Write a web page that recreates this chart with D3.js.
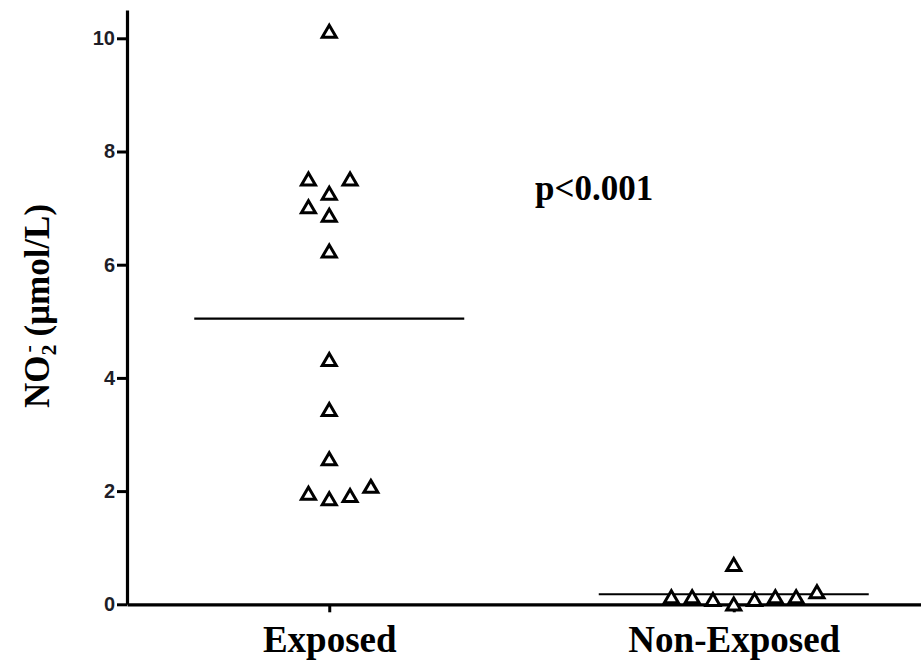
<!DOCTYPE html>
<html>
<head>
<meta charset="utf-8">
<script src="https://cdn.jsdelivr.net/npm/d3@7"></script>
<style>
  html, body { margin: 0; padding: 0; background: #fff; }
  svg { display: block; }
</style>
</head>
<body>
<svg id="chart" width="921" height="663"></svg>
<script>
// ---- data ----
const groups = ["Exposed", "Non-Exposed"];
const exposedValues = [10.12, 7.51, 7.51, 7.26, 7.02, 6.87, 6.24, 4.32, 3.44, 2.57, 1.96, 1.86, 1.92, 2.08];
const exposedSlots  = [0, -1, 1, 0, -1, 0, 0, 0, 0, 0, -1, 0, 1, 2];
const nonExposedValues = [0.70, 0.13, 0.13, 0.08, 0.00, 0.08, 0.13, 0.13, 0.22];
const nonExposedSlots  = [0, -3, -2, -1, 0, 1, 2, 3, 4];
const yTicks = [0, 2, 4, 6, 8, 10];
const yMax = 10.5;
const pText = "p<0.001";

// ---- layout ----
const svg = d3.select("#chart");
const x = d3.scalePoint().domain(groups).range([127, 936]).padding(0.5);
const y = d3.scaleLinear().domain([0, yMax]).range([604.3, 10]);
const slotW = 20.8;

const points = [];
exposedValues.forEach((v, i) => points.push({g: groups[0], v, s: exposedSlots[i]}));
nonExposedValues.forEach((v, i) => points.push({g: groups[1], v, s: nonExposedSlots[i]}));

// y axis
const yAxis = svg.append("g")
  .attr("transform", "translate(127,0)")
  .call(d3.axisLeft(y).tickValues(yTicks).tickSize(10).tickSizeOuter(0).tickPadding(2).tickFormat(d3.format("d")));
yAxis.select(".domain").attr("stroke", "#000").attr("stroke-width", 3.2);
yAxis.selectAll(".tick line").attr("stroke", "#000").attr("stroke-width", 3);
yAxis.selectAll(".tick text")
  .attr("font-family", "Liberation Sans, Arial, sans-serif")
  .attr("font-weight", "bold")
  .attr("font-size", 20)
  .attr("fill", "#1e1e28");

// x axis
const xAxis = svg.append("g")
  .attr("transform", `translate(0,${y(0)})`)
  .call(d3.axisBottom(x).tickSize(8).tickSizeOuter(0));
xAxis.select(".domain").attr("stroke", "#000").attr("stroke-width", 3.2);
xAxis.selectAll(".tick line").attr("stroke", "#000").attr("stroke-width", 3);
xAxis.selectAll(".tick text")
  .attr("y", 48).attr("dy", 0)
  .attr("font-family", "Liberation Serif, Times New Roman, serif")
  .attr("font-weight", "bold")
  .attr("font-size", 37)
  .attr("fill", "#000");

// mean lines
groups.forEach(g => {
  const vals = points.filter(p => p.g === g).map(p => p.v);
  const m = d3.mean(vals);
  svg.append("line")
    .attr("x1", x(g) - 135).attr("x2", x(g) + 135)
    .attr("y1", y(m)).attr("y2", y(m))
    .attr("stroke", "#000").attr("stroke-width", 2.2);
});

// triangles
const tri = "M0,-6.2L7,5.8L-7,5.8Z";
svg.append("g").selectAll("path")
  .data(points)
  .join("path")
  .attr("d", tri)
  .attr("transform", d => `translate(${x(d.g) + d.s * slotW},${y(d.v)})`)
  .attr("fill", "#fff")
  .attr("stroke", "#000")
  .attr("stroke-width", 3)
  .attr("stroke-linejoin", "miter");

// p value
svg.append("text")
  .attr("x", 535).attr("y", 200)
  .attr("font-family", "Liberation Serif, Times New Roman, serif")
  .attr("font-weight", "bold")
  .attr("font-size", 35)
  .text(pText);

// y label
const yl = svg.append("text")
  .attr("transform", "translate(49,306) rotate(-90)")
  .attr("text-anchor", "middle")
  .attr("font-family", "Liberation Serif, Times New Roman, serif")
  .attr("font-weight", "bold")
  .attr("font-size", 35);
yl.append("tspan").text("NO");
yl.append("tspan").attr("font-size", 22).attr("dy", 7).text("2");
yl.append("tspan").attr("font-size", 22).attr("dx", -8).attr("dy", -21).text("-");
yl.append("tspan").attr("dy", 14).text(" (μmol/L)");
</script>
</body>
</html>
